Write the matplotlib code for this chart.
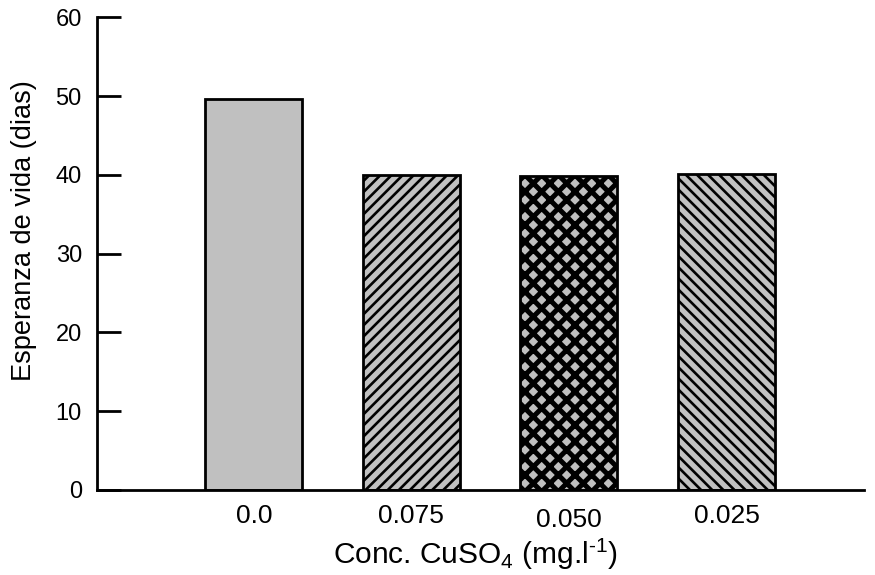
import matplotlib
matplotlib.use("Agg")
import matplotlib.pyplot as plt
from matplotlib.transforms import ScaledTranslation

plt.rcParams['font.family'] = ['Liberation Sans', 'DejaVu Sans']
plt.rcParams['mathtext.fontset'] = 'custom'
plt.rcParams['mathtext.rm'] = 'Liberation Sans'
plt.rcParams['mathtext.it'] = 'Liberation Sans'

# Life expectancy per CuSO4 concentration
concentrations = ["0.0", "0.075", "0.050", "0.025"]
life_days = [49.6, 40.0, 39.9, 40.1]
hatches = ["", "///", "xx", "\\\\\\"]
hatch_widths = [1.9, 1.9, 3.6, 1.9]


def hatch_width_draw(patch, lw):
    # draw one patch with its own hatch line width
    orig = patch.draw

    def draw(renderer):
        with plt.rc_context({'hatch.linewidth': lw}):
            orig(renderer)
    patch.draw = draw
    if hasattr(patch, "set_hatch_linewidth"):
        patch.set_hatch_linewidth(lw)


fig = plt.figure(figsize=(8.75, 5.75), dpi=100)
ax = fig.add_axes([0.111, 0.148, 0.877, 0.822])

pos = list(range(len(concentrations)))
for i in pos:
    bars = ax.bar(pos[i], life_days[i], width=0.616, color="#c0c0c0",
                  edgecolor="black", linewidth=2, hatch=hatches[i], zorder=2)
    for b in bars:
        hatch_width_draw(b, hatch_widths[i])

ax.set_xlim(-0.994, 3.876)
ax.set_ylim(0, 60)
ax.set_yticks(range(0, 61, 10))
ax.set_xticks(pos)
ax.set_xticklabels(concentrations, fontsize=19)

ax.tick_params(axis='y', direction='in', length=17, width=2, pad=11, labelsize=17)
ax.tick_params(axis='x', length=0, pad=10)

for side in ['top', 'right']:
    ax.spines[side].set_visible(False)
for side in ['left', 'bottom']:
    ax.spines[side].set_linewidth(2)

# the 0.050 label sits a little lower
lbl = ax.get_xticklabels()[2]
lbl.set_transform(lbl.get_transform() + ScaledTranslation(0, -3 / 72, fig.dpi_scale_trans))

ax.set_xlabel(r"Conc. CuSO$_4$ (mg.l$^{\text{-1}}$)", fontsize=21.5)
ax.set_ylabel("Esperanza de vida (dias)", fontsize=19.5)
ax.xaxis.set_label_coords(0.493, -0.10)
ax.yaxis.set_label_coords(-0.078, 0.548)

fig.savefig("out.png", dpi=100)
